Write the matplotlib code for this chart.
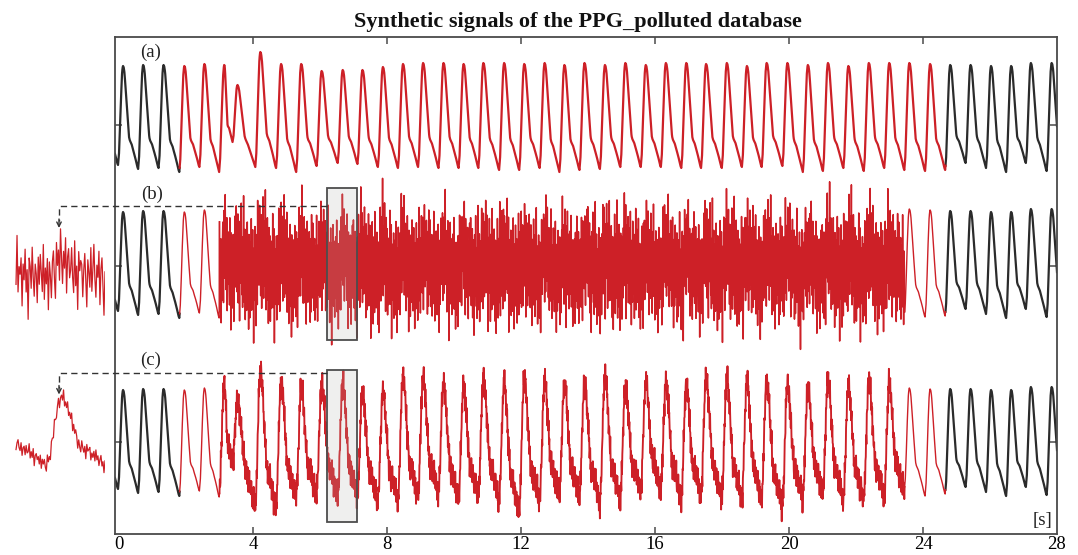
import numpy as np
import matplotlib
matplotlib.use("Agg")
import matplotlib.pyplot as plt
from matplotlib.patches import Rectangle, FancyArrowPatch
from matplotlib.lines import Line2D

# ---------------- data ----------------
title = "Synthetic signals of the PPG_polluted database"
row_labels = ["(a)", "(b)", "(c)"]
x_ticks = [0, 4, 8, 12, 16, 20, 24, 28]
x_unit = "[s]"

# systolic peak times [s] of every beat
peak_times = [-0.49, 0.11, 0.71, 1.32, 1.94, 2.54, 3.13, 3.53, 4.21, 4.83,
              5.43, 6.04, 6.67, 7.26, 7.87, 8.47, 9.07, 9.68, 10.28, 10.87,
              11.49, 12.09, 12.70, 13.29, 13.89, 14.50, 15.11, 15.72, 16.32, 16.93,
              17.52, 18.14, 18.74, 19.33, 19.95, 20.56, 21.16, 21.77, 22.38, 22.99,
              23.59, 24.21, 24.81, 25.42, 26.03, 26.63, 27.22, 27.84, 28.45]

# clean signal (a): peak value and onset (trough) value of each beat
a_peaks = [0.60, 0.59, 0.60, 0.60, 0.59, 0.61, 0.60, 0.40, 0.73, 0.61,
           0.61, 0.54, 0.55, 0.55, 0.58, 0.61, 0.62, 0.62, 0.61, 0.62,
           0.62, 0.61, 0.62, 0.60, 0.62, 0.60, 0.62, 0.60, 0.62, 0.62,
           0.61, 0.62, 0.59, 0.62, 0.62, 0.60, 0.62, 0.59, 0.62, 0.62,
           0.62, 0.61, 0.60, 0.60, 0.59, 0.59, 0.62, 0.62, 0.60]
a_troughs = [-0.43, -0.40, -0.44, -0.43, -0.47, -0.42, -0.47, -0.17, -0.42, -0.43,
             -0.47, -0.41, -0.38, -0.39, -0.42, -0.43, -0.42, -0.43, -0.43, -0.43,
             -0.45, -0.45, -0.43, -0.47, -0.45, -0.44, -0.42, -0.42, -0.42, -0.43,
             -0.43, -0.43, -0.42, -0.42, -0.41, -0.47, -0.46, -0.43, -0.46, -0.43,
             -0.45, -0.46, -0.45, -0.38, -0.43, -0.47, -0.38, -0.46, -0.43]

# signal (c): underlying pulse amplitudes (with motion/baseline changes)
c_peaks = [0.60, 0.59, 0.60, 0.60, 0.59, 0.61, 0.65, 0.48, 0.79, 0.68,
           0.61, 0.64, 0.65, 0.57, 0.57, 0.72, 0.72, 0.65, 0.62, 0.71,
           0.65, 0.72, 0.68, 0.65, 0.67, 0.72, 0.63, 0.67, 0.66, 0.65,
           0.71, 0.70, 0.67, 0.68, 0.65, 0.61, 0.69, 0.63, 0.68, 0.65,
           0.61, 0.60, 0.60, 0.60, 0.59, 0.59, 0.62, 0.62, 0.60]
c_troughs = [-0.43, -0.40, -0.44, -0.43, -0.47, -0.42, -0.48, -0.12, -0.58, -0.59,
             -0.48, -0.45, -0.47, -0.48, -0.53, -0.50, -0.48, -0.44, -0.50, -0.48,
             -0.51, -0.64, -0.52, -0.47, -0.49, -0.55, -0.51, -0.42, -0.40, -0.51,
             -0.46, -0.50, -0.50, -0.50, -0.58, -0.48, -0.43, -0.52, -0.50, -0.48,
             -0.42, -0.47, -0.45, -0.38, -0.43, -0.47, -0.38, -0.46, -0.43]

# pulse shape read from one clean beat: rise (onset -> peak), fall (peak -> next onset)
rise_phase = [0.0, 0.2, 0.4, 0.6, 0.8, 0.9, 1.0]
rise_shape = [0.0, 0.12, 0.38, 0.68, 0.92, 0.98, 1.0]
fall_phase = [0.0, 0.05, 0.10, 0.20, 0.30, 0.40, 0.45, 0.50, 0.58, 0.67, 0.75, 0.83, 0.90, 0.96, 1.0]
fall_shape = [1.0, 0.985, 0.93, 0.72, 0.50, 0.30, 0.27, 0.255, 0.23, 0.18, 0.14, 0.095, 0.05, 0.015, 0.0]

# additive noise samples (hundredths of a unit), hand-estimated band
noise_px = [12, -31, 5, 27, -8, -44, 19, 3, -17, 36,
            -22, 8, 41, -5, -29, 14, -2, 33, -38, 10,
            25, -13, -51, 7, 30, -19, 2, 46, -9, -26,
            17, -35, 22, -4, 56, -15, -28, 9, 31, -41,
            4, 20, -12, -33, 15, 38, -6, -23, 11, -47,
            29, -1, 18, -37, 6, 24, -16, 43, -30, 0,
            -10, 35, -25, 13, -55, 21, 8, -14, 39, -20,
            16, -42, 3, 28, -7, -32, 49, -11, 23, -3,
            -27, 10, 34, -18, 1, -39, 26, 14, -48, 19,
            7, -24, 45, -9, -34, 12, 30, -21, 5, 58,
            -15, -36, 20, 2, -26, 40, -12, 17, -44, 9,
            33, -6, -19, 27, -41, 4, 15, -30, 24, -13,
            -2, 47, -28, 11, -17, 36, -55, 6, 21, -8,
            13, -23, 31, -37, 18, -4, 26, -14, -33, 42,
            -11, 3, -46, 22, 9, -27, 38, -1, -20, 15,
            28, -39, 7, 16, -9, 50, -31, 1, -16, 34,
            -24, 12, -5, 44, -35, 19, -12, 25, 8, -43,
            20, -7, -29, 37, 2, -21, 14, -52, 30, -3,
            10, 27, -38, 5, -15, 23, -26, 40, -10, 17,
            -32, 6, 35, -18, 11, -45, 24, -6, 13, -28,
            41, -14, 0, 29, -36, 8, 18, -22, 52, -17,
            -5, 22, -40, 14, -25, 32, -9, 4, -34, 26,
            9, -48, 21, -2, 37, -13, -27, 16, 3, -19,
            30, -8, 12, -42, 25, 6, -33, 45, -16, 1,
            -21, 39, -11, 18, -30, 10, 28, -37, 7, 23,
            -4, -26, 48, -15, 5, -39, 20, 11, -23, 34,
            15, -10, -32, 26, -6, 41, -19, 2, -47, 13,
            24, -29, 8, 36, -12, -21, 17, -3, 31, -40,
            -7, 19, -35, 4, 27, -16, 50, -25, 9, -1,
            21, -43, 13, -8, 33, -24, 6, -60, 22, 11,
            -18, 37, -3, -28, 15, 2, -36, 25, -11, 29,
            5, -20, 43, -30, 12, -9, 24, -45, 18, -2,
            -33, 14, 26, -13, -41, 32, 0, 19, -22, 46,
            8, -27, 16, -6, 35, -38, 11, 23, -15, -4,
            27, -12, -31, 39, -20, 7, -50, 28, 3, 17]

box_window = [6.21, 7.10]     # highlighted window [s]
red_beats = (4, 42)           # beats whose onsets bound the red (modified) part
noisy_beats = (6, 40)         # beats whose onsets bound the noisy part

# ---------------- style / layout ----------------
FS = 100.0
RISE = 0.15
RED = "#cd2027"
BLACK = "#2b2b2b"
GRAY = "#4a4a4a"
row_offsets = [0.0, -1.46, -3.24]
row_ticks = [0.0, -1.41, -3.17]
b_noise_center = 0.06
b_ppg_share = 0.25
b_noise_scale = 1.25
c_noise_scale = 0.30
W, H = 1078, 555
FONT = "Liberation Serif"
plt.rcParams["font.family"] = [FONT, "DejaVu Serif"]

t = np.arange(-0.13, 28.0 + 1e-9, 1.0 / FS)
pt = np.asarray(peak_times)
onsets = pt - RISE


def ppg(peaks, troughs):
    y = np.full(t.shape, np.nan)
    for i in range(len(pt) - 1):
        t0, tp, t1 = onsets[i], pt[i], onsets[i + 1]
        m = (t >= t0) & (t < t1)
        tt = t[m]
        slope = (troughs[i + 1] - troughs[i]) / (t1 - t0)
        base = troughs[i] + slope * (tt - t0)
        base_pk = troughs[i] + slope * (tp - t0)
        rise = np.interp((tt - t0) / (tp - t0), rise_phase, rise_shape)
        fall = np.interp((tt - tp) / (t1 - tp), fall_phase, fall_shape)
        shape = np.where(tt < tp, rise, fall)
        y[m] = base + shape * (peaks[i] - base_pk)
    return y


sa = ppg(a_peaks, a_troughs)
sc = ppg(c_peaks, c_troughs)
noise = np.asarray(noise_px, dtype=float) / 100.0
k = np.arange(len(t))
nb = noise[k % len(noise)] * b_noise_scale
nc = noise[(k + 173) % len(noise)] * c_noise_scale

i_r0 = np.searchsorted(t, onsets[red_beats[0]])
i_r1 = np.searchsorted(t, onsets[red_beats[1]])
i_n0 = np.searchsorted(t, onsets[noisy_beats[0]])
i_n1 = np.searchsorted(t, onsets[noisy_beats[1]])

sb = sa.copy()
sb[i_n0:i_n1] = b_ppg_share * sa[i_n0:i_n1] + nb[i_n0:i_n1] + b_noise_center
sc2 = sc.copy()
sc2[i_n0:i_n1] = sc[i_n0:i_n1] + nc[i_n0:i_n1]

signals = [sa + row_offsets[0], sb + row_offsets[1], sc2 + row_offsets[2]]

# ---------------- figure ----------------
fig = plt.figure(figsize=(W / 100, H / 100), dpi=100)


def fx(px):
    return px / W


def fy(py):
    return 1 - py / H


ax_l, ax_r, ax_t, ax_b = 115, 1057, 36.5, 534
ax = fig.add_axes([fx(ax_l), fy(ax_b), fx(ax_r - ax_l), (ax_b - ax_t) / H])


def py_to_y(py):
    return (125 - py) / 100.0


ax.set_xlim(-0.13, 28.0)
ax.set_ylim(py_to_y(ax_b), py_to_y(ax_t))

for r, y in enumerate(signals):
    ax.plot(t[:i_r0 + 1], y[:i_r0 + 1], color=BLACK, lw=1.6, solid_joinstyle="round")
    ax.plot(t[i_r1:], y[i_r1:], color=BLACK, lw=1.6, solid_joinstyle="round")
    if r == 0:
        ax.plot(t[i_r0:i_r1 + 1], y[i_r0:i_r1 + 1], color=RED, lw=1.6)
    else:
        ax.plot(t[i_r0:i_n0 + 1], y[i_r0:i_n0 + 1], color=RED, lw=1.0)
        ax.plot(t[i_n1:i_r1 + 1], y[i_n1:i_r1 + 1], color=RED, lw=1.0)
        ax.plot(t[i_n0:i_n1 + 1], y[i_n0:i_n1 + 1], color=RED,
                lw=1.1 if r == 1 else 1.35)

# highlighted windows
box_py = [(187.5, 339.5), (369.5, 521.5)]
for (p0, p1) in box_py:
    ax.add_patch(Rectangle((box_window[0], py_to_y(p1)), box_window[1] - box_window[0],
                           py_to_y(p0) - py_to_y(p1),
                           facecolor=(0.70, 0.69, 0.67, 0.20),
                           edgecolor=(0.30, 0.30, 0.30, 1.0), lw=1.3, zorder=5))

ax.set_xticks(x_ticks)
ax.set_xticklabels([str(v) for v in x_ticks], fontsize=13.5)
ax.set_yticks(row_ticks)
ax.set_yticklabels([])
ax.tick_params(axis="x", direction="in", length=5, width=1.1, color=GRAY,
               top=True, bottom=True, pad=1.5)
ax.tick_params(axis="y", direction="in", length=5, width=1.1, color=GRAY,
               left=True, right=True)
xt = ax.xaxis.get_major_ticks()
for tk in (xt[0], xt[-1]):
    tk.tick1line.set_visible(False)
    tk.tick2line.set_visible(False)
for s in ax.spines.values():
    s.set_color(GRAY)
    s.set_linewidth(1.3)

# insets (zoom of the highlighted window)
inset_specs = [(1, 272.0, 266.0), (2, 398.0, 384.0)]
for (r, p_center, m_center), (p0, p1) in zip(inset_specs, box_py):
    scale = 0.6
    iax = fig.add_axes([fx(15), fy(p1), fx(90), (p1 - p0) / H])
    m_top = m_center + (p0 - p_center) / scale
    m_bot = m_center + (p1 - p_center) / scale
    iax.set_xlim(box_window[0], box_window[1])
    iax.set_ylim(py_to_y(m_bot), py_to_y(m_top))
    sel = (t >= box_window[0]) & (t <= box_window[1])
    iax.plot(t[sel], signals[r][sel], color=RED, lw=0.9)
    iax.axis("off")

# dashed leader lines with arrows
for (hy, tip_y) in [(205.7, 228.0), (372.7, 394.5)]:
    fig.add_artist(Line2D([fx(327), fx(59), fx(59)], [fy(hy), fy(hy), fy(tip_y - 7)],
                          color="#333333", lw=1.0, ls=(0, (4.5, 3))))
    fig.add_artist(FancyArrowPatch(
        (fx(59), fy(tip_y - 9)), (fx(59), fy(tip_y)), transform=fig.transFigure,
        arrowstyle="->", mutation_scale=8, color="#333333", lw=1.0,
        shrinkA=0, shrinkB=0))

# texts
label_pos = [(151, 52.5), (152, 194), (151, 360)]
for lab, (px, py) in zip(row_labels, label_pos):
    fig.text(fx(px), fy(py), lab, fontsize=13.5, ha="center", va="center", color="#222222")
fig.text(fx(1043), fy(520), x_unit, fontsize=13.5, ha="center", va="center", color="#222222")
fig.text(fx(578), fy(27.3), title, fontsize=16, fontweight="bold", ha="center",
         va="baseline", color="#111111")

fig.savefig("out.png", dpi=100)
